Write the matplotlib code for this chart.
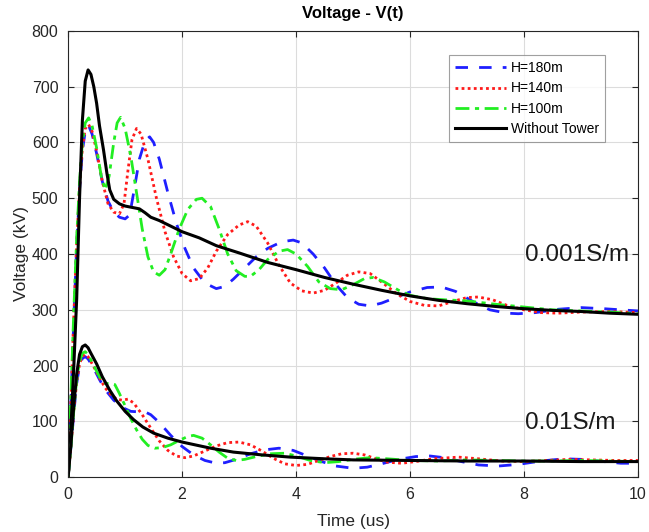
import matplotlib
matplotlib.use("Agg")
import matplotlib.pyplot as plt

plt.rcParams['font.family'] = ['Liberation Sans', 'DejaVu Sans']

# ---- 0.001 S/m (upper group) ----
t_b1 = [0,0.05,0.1,0.15,0.2,0.25,0.3,0.36,0.42,0.5,0.6,0.7,0.8,0.9,1.0,1.08,1.15,1.25,1.35,1.43,1.5,1.6,1.75,1.9,2.05,2.2,2.4,2.6,2.75,2.9,3.1,3.3,3.5,3.75,3.95,4.1,4.3,4.5,4.7,4.9,5.1,5.3,5.5,5.75,6.0,6.3,6.55,6.8,7.1,7.4,7.7,7.9,8.2,8.6,9.0,9.4,9.7,10]
v_b1 = [0,140,285,415,515,585,620,630,615,580,530,495,475,466,463,470,510,570,603,610,600,570,510,455,410,375,348,338,342,355,375,395,410,422,425,420,400,375,345,322,310,307,312,322,332,340,341,333,315,300,294,293,295,301,304,302,300,298]

t_r1 = [0,0.05,0.1,0.15,0.2,0.25,0.3,0.36,0.42,0.5,0.6,0.7,0.8,0.9,0.98,1.05,1.12,1.2,1.28,1.4,1.55,1.7,1.85,2.0,2.15,2.3,2.45,2.6,2.8,3.0,3.15,3.3,3.5,3.7,3.9,4.1,4.3,4.5,4.7,4.9,5.1,5.3,5.5,5.75,6.0,6.25,6.5,6.75,7.0,7.2,7.45,7.7,8.0,8.3,8.6,9.0,9.5,10]
v_r1 = [0,140,290,420,520,590,625,632,620,585,530,490,475,472,490,550,605,625,615,570,500,440,395,365,352,356,375,405,435,452,458,450,420,380,348,334,330,335,348,362,368,365,350,330,315,308,307,315,322,323,318,308,300,295,294,296,297,295]

t_g1 = [0,0.05,0.1,0.15,0.2,0.25,0.3,0.36,0.42,0.5,0.58,0.65,0.72,0.8,0.86,0.92,1.0,1.1,1.2,1.3,1.4,1.5,1.6,1.7,1.8,1.95,2.1,2.25,2.35,2.5,2.65,2.8,2.95,3.1,3.2,3.35,3.5,3.7,3.85,4.0,4.2,4.4,4.6,4.8,5.0,5.2,5.35,5.55,5.8,6.0,6.3,6.6,7.0,7.5,8.0,8.5,9.0,9.5,10]
v_g1 = [0,150,300,430,530,600,635,644,630,590,540,515,540,600,635,645,625,575,510,445,395,368,362,372,400,445,480,498,500,485,445,400,370,360,360,372,390,405,408,400,378,350,338,336,345,356,358,350,335,326,320,318,316,310,305,300,298,296,293]

t_k1 = [0,0.05,0.1,0.15,0.2,0.25,0.3,0.35,0.4,0.45,0.5,0.55,0.62,0.68,0.73,0.8,0.9,1.0,1.15,1.25,1.35,1.45,1.6,1.8,2.0,2.3,2.6,3.0,3.5,4.0,4.5,5.0,5.5,6.0,6.5,7.0,7.5,8.0,8.5,9.0,9.5,10]
v_k1 = [0,90,200,320,500,640,710,730,722,700,670,630,587,545,515,498,490,486,483,481,474,466,460,450,440,429,415,402,385,372,358,346,335,325,317,311,306,302,299,297,294,292]

# ---- 0.01 S/m (lower group) ----
t_b2 = [0,0.05,0.1,0.15,0.2,0.25,0.3,0.35,0.45,0.55,0.65,0.8,0.95,1.1,1.25,1.35,1.45,1.6,1.8,2.0,2.2,2.4,2.6,2.75,2.95,3.2,3.45,3.7,3.95,4.2,4.45,4.7,5.0,5.25,5.5,5.8,6.1,6.35,6.6,6.9,7.2,7.55,7.9,8.3,8.7,9.0,9.4,9.7,10]
v_b2 = [0,55,115,168,200,213,216,212,195,175,157,138,125,118,117,117,112,98,75,55,40,30,25,26,32,42,49,52,48,38,28,20,16,18,24,32,37,38,35,28,22,20,23,29,33,32,28,25,25]

t_r2 = [0,0.05,0.1,0.15,0.2,0.25,0.3,0.35,0.45,0.55,0.65,0.75,0.85,0.95,1.05,1.15,1.3,1.45,1.6,1.75,1.9,2.05,2.2,2.4,2.6,2.8,3.0,3.2,3.4,3.6,3.8,4.0,4.2,4.4,4.6,4.8,5.0,5.2,5.4,5.6,5.85,6.1,6.4,6.85,7.2,7.6,8.0,8.4,8.8,9.2,9.6,10]
v_r2 = [0,55,120,170,203,217,220,216,198,178,160,148,140,138,140,133,112,88,65,48,38,35,38,47,56,62,63,58,47,34,24,21,23,30,37,42,43,40,33,27,25,28,33,36,33,29,28,30,32,31,30,30]

t_g2 = [0,0.05,0.1,0.15,0.2,0.25,0.3,0.35,0.45,0.55,0.65,0.75,0.82,0.9,1.0,1.1,1.2,1.3,1.4,1.52,1.65,1.8,1.95,2.1,2.2,2.35,2.5,2.65,2.8,2.95,3.1,3.3,3.55,3.8,4.0,4.25,4.5,4.75,5.0,5.3,5.6,6.0,6.5,7.0,7.5,8.0,8.5,9.0,9.5,10]
v_g2 = [0,55,120,175,208,222,225,220,200,180,168,168,166,150,128,105,85,68,57,52,53,58,66,73,75,70,58,45,34,30,32,37,42,43,38,30,26,28,32,35,33,30,29,31,30,29,29,30,29,28]

t_k2 = [0,0.05,0.1,0.15,0.2,0.25,0.3,0.35,0.4,0.5,0.6,0.73,0.85,1.0,1.15,1.31,1.5,1.75,2.0,2.5,2.9,3.4,3.9,4.5,5.0,6.0,7.0,8.0,9.0,10]
v_k2 = [0,60,130,185,220,234,237,232,222,203,180,156,137,118,103,90,79,70,63,52,45,40,36,33,31,30,29,29,28,28]

labels = ["H=180m", "H=140m", "H=100m", "Without Tower"]
xticks = [0, 2, 4, 6, 8, 10]
yticks = [0, 100, 200, 300, 400, 500, 600, 700, 800]

fig = plt.figure(figsize=(6.49, 5.32), dpi=100)
ax = fig.add_axes([0.105, 0.103, 0.878, 0.839])

blue = '#1f1fff'
red = '#ff1a1a'
green = '#22ee22'
lw = 2.0
blue_dash = (4.5, 4)
red_dot = (0, (1, 1.2))
green_dd = (5, 2, 1.5, 2)
ax.plot(t_b1, v_b1, color=blue, lw=lw, dashes=blue_dash, label=labels[0])
ax.plot(t_r1, v_r1, color=red, lw=lw, linestyle=red_dot, label=labels[1])
ax.plot(t_g1, v_g1, color=green, lw=lw, dashes=green_dd, label=labels[2])
ax.plot(t_k1, v_k1, color='black', lw=2.2, label=labels[3])

ax.plot(t_b2, v_b2, color=blue, lw=lw, dashes=blue_dash)
ax.plot(t_r2, v_r2, color=red, lw=lw, linestyle=red_dot)
ax.plot(t_g2, v_g2, color=green, lw=lw, dashes=green_dd)
ax.plot(t_k2, v_k2, color='black', lw=2.2)

ax.set_xlim(0, 10)
ax.set_ylim(0, 800)
ax.set_xticks(xticks)
ax.set_yticks(yticks)
ax.tick_params(direction='in', top=True, right=True, labelsize=11.5, length=4,
               colors='#262626', pad=7)
for s in ax.spines.values():
    s.set_color('#262626')
    s.set_linewidth(0.8)
ax.grid(True, color='#dcdcdc', linewidth=0.8)
ax.set_axisbelow(True)

ax.set_title("Voltage - V(t)", fontsize=12, fontweight='bold', pad=9)
ax.set_xlabel("Time (us)", fontsize=12.5, labelpad=9, color='#262626')
ax.set_ylabel("Voltage (kV)", fontsize=12.5, labelpad=2, color='#262626')

ax.text(8.02, 398, "0.001S/m", fontsize=17.5, ha='left', va='center', color='#1a1a1a')
ax.text(8.02, 98, "0.01S/m", fontsize=17.5, ha='left', va='center', color='#1a1a1a')

leg = ax.legend(loc='upper right', bbox_to_anchor=(0.942, 0.946), fontsize=10,
                frameon=True, fancybox=False, edgecolor='#888888', handlelength=3.7,
                borderpad=0.45, labelspacing=0.45, handletextpad=0.3, borderaxespad=0)
leg.get_frame().set_linewidth(0.8)

fig.savefig("out.png", dpi=100)
